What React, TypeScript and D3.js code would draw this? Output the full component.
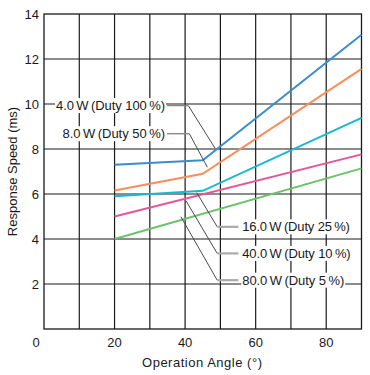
import React from "react";
import * as d3 from "d3";

const xTicks = [0, 20, 40, 60, 80];
const yTicks = [2, 4, 6, 8, 10, 12, 14];
const xGrid = [10, 20, 30, 40, 50, 60, 70, 80];
const yGrid = [2, 4, 6, 8, 10, 12];

const seriesNames = ["4.0\u2009W", "8.0\u2009W", "16.0\u2009W", "40.0\u2009W", "80.0\u2009W"];
const seriesDuty = ["100", "50", "25", "10", "5"];
const seriesColors = ["#3a8dce", "#f88e5a", "#19b7d2", "#e55597", "#6cc26b"];
const blue = [[20, 7.3], [45, 7.5], [90, 13.08]];
const orange = [[20, 6.16], [45, 6.9], [90, 11.56]];
const cyan = [[20, 5.9], [45, 6.14], [90, 9.38]];
const pink = [[20, 5.0], [90, 7.76]];
const green = [[20, 4.0], [90, 7.14]];
const seriesData = [blue, orange, cyan, pink, green];
const labelWidths = [109, 102.5, 107.7, 108.4, 102];

// annotation leaders in data units
const leaderLeft = [
  { end: [48.5, 8.03], elbow: [40.9, 9.93], textX: 34.3 },
  { end: [46.3, 7.19], elbow: [41.2, 8.68], textX: 34.3 },
];
const leaderRight = [
  { start: [43.3, 6.06], elbow: [49.1, 4.54], barEnd: 55.1, textX: 56.2 },
  { start: [40.25, 5.7], elbow: [49.1, 3.36], barEnd: 55.1, textX: 56.2 },
  { start: [38.8, 4.99], elbow: [49.1, 2.17], barEnd: 55.1, textX: 56.2 },
];

const W = 370, H = 375;
const L = 44, R = 361.5, T = 14, B = 329;
const FONT = "'Liberation Sans', Arial, sans-serif";

export default function App() {
  const x = d3.scaleLinear().domain([0, 90]).range([L, R]);
  const y = d3.scaleLinear().domain([0, 14]).range([B, T]);
  const line = d3.line<number[]>().x((d) => x(d[0])).y((d) => y(d[1]));
  const label = (i: number) => `${seriesNames[i]}\u2009(Duty ${seriesDuty[i]}\u2009%)`;
  const fs = 13;
  const textBg = (tx: number, ty: number, w: number, anchor: "start" | "end") => {
    const x0 = anchor === "end" ? tx - w : tx;
    return <rect x={x0 - 1} y={ty - 7.5} width={w + 2} height={15} fill="#fff" />;
  };
  return (
    <svg width={W} height={H} style={{ position: "absolute", left: 0, top: 0 }} fontFamily={FONT}>
      <rect width={W} height={H} fill="#fff" />
      {xGrid.map((v) => (
        <line key={"gx" + v} x1={x(v)} x2={x(v)} y1={T} y2={B} stroke="#1a1a1a" strokeWidth={1.2} />
      ))}
      {yGrid.map((v) => (
        <line key={"gy" + v} x1={L} x2={R} y1={y(v)} y2={y(v)} stroke="#1a1a1a" strokeWidth={1.2} />
      ))}
      <rect x={L} y={T} width={R - L} height={B - T} fill="none" stroke="#1a1a1a" strokeWidth={1.3} />
      {seriesData.map((d, i) => (
        <path key={"s" + i} d={line(d) || ""} fill="none" stroke={seriesColors[i]} strokeWidth={2} />
      ))}
      {leaderLeft.map((a, i) => {
        const ty = y(a.elbow[1]);
        const w = labelWidths[i];
        return (
          <g key={"ll" + i}>
            <line x1={x(a.textX) + 2} x2={x(a.elbow[0])} y1={ty} y2={ty} stroke="#8a8a8a" strokeWidth={1.4} />
            <line x1={x(a.elbow[0])} y1={ty} x2={x(a.end[0])} y2={y(a.end[1])} stroke="#4a4a4a" strokeWidth={1} />
            {textBg(x(a.textX), ty, w, "end")}
            <text x={x(a.textX) - w} y={ty} dy="0.35em" textAnchor="start" fontSize={fs} fill="#1a1a1a"
              textLength={w} lengthAdjust="spacing">
              {label(i)}
            </text>
          </g>
        );
      })}
      {leaderRight.map((a, j) => {
        const i = j + 2;
        const ty = y(a.elbow[1]);
        const w = labelWidths[i];
        return (
          <g key={"lr" + j}>
            <line x1={x(a.start[0])} y1={y(a.start[1])} x2={x(a.elbow[0])} y2={ty} stroke="#4a4a4a" strokeWidth={1} />
            <line x1={x(a.elbow[0])} x2={x(a.barEnd)} y1={ty} y2={ty} stroke="#aaaaaa" strokeWidth={2.2} />
            {textBg(x(a.textX), ty, w, "start")}
            <text x={x(a.textX)} y={ty} dy="0.35em" textAnchor="start" fontSize={fs} fill="#1a1a1a"
              textLength={w} lengthAdjust="spacing">
              {label(i)}
            </text>
          </g>
        );
      })}
      {yTicks.map((v) => (
        <text key={"yt" + v} x={39} y={y(v)} dy="0.35em" textAnchor="end" fontSize={13} fill="#1a1a1a">
          {v}
        </text>
      ))}
      {xTicks.map((v) => (
        <text key={"xt" + v} x={v === 0 ? 36 : x(v)} y={346.5} textAnchor="middle" fontSize={13} fill="#1a1a1a">
          {v}
        </text>
      ))}
      <text x={142} y={366.5} textAnchor="start" fontSize={13} fill="#1a1a1a" textLength={120} lengthAdjust="spacing">
        Operation Angle (°)
      </text>
      <text
        transform={`translate(16.5,${(T + B) / 2}) rotate(-90)`}
        textAnchor="middle"
        fontSize={13}
        fill="#1a1a1a"
      >
        Response Speed (ms)
      </text>
    </svg>
  );
}
